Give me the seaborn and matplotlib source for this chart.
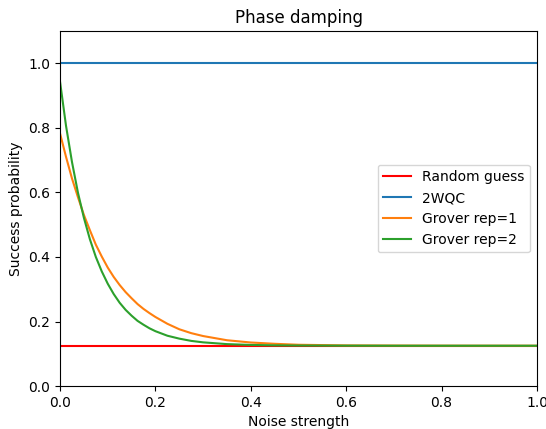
import numpy as np
import pandas as pd
import seaborn as sns
import matplotlib
matplotlib.use("Agg")
import matplotlib.pyplot as plt

# Noise strength grid for the Grover curves (denser near 0 where they fall fast)
noise = [0.0, 0.0125, 0.025, 0.0375, 0.05, 0.0625, 0.075, 0.0875, 0.1, 0.1125,
         0.125, 0.1375, 0.15, 0.1625, 0.175, 0.1875, 0.2, 0.225, 0.25, 0.275,
         0.3, 0.35, 0.4, 0.45, 0.5, 0.6, 0.7, 0.8, 0.9, 1.0]

grover_rep1 = [0.782, 0.710, 0.643, 0.585, 0.530, 0.483, 0.438, 0.401, 0.367, 0.338,
               0.313, 0.291, 0.272, 0.254, 0.239, 0.226, 0.214, 0.193, 0.176, 0.164,
               0.155, 0.142, 0.135, 0.131, 0.128, 0.126, 0.1255, 0.1252, 0.1251, 0.125]

grover_rep2 = [0.942, 0.806, 0.694, 0.599, 0.521, 0.455, 0.400, 0.355, 0.317, 0.285,
               0.258, 0.236, 0.218, 0.202, 0.190, 0.179, 0.170, 0.156, 0.147, 0.140,
               0.1355, 0.130, 0.1275, 0.1262, 0.1256, 0.1252, 0.125, 0.125, 0.125, 0.125]

# flat reference lines
noise_ends = [0.0, 1.0]
random_guess = [0.125, 0.125]
wqc = [1.0, 1.0]

fig = plt.figure(figsize=(5.46, 4.29), dpi=100)
ax = fig.add_axes([0.110, 0.100, 0.8735, 0.828])

sns.lineplot(x=noise_ends, y=random_guess, color="red", label="Random guess", ax=ax)
sns.lineplot(x=noise_ends, y=wqc, color="tab:blue", label="2WQC", ax=ax)
sns.lineplot(x=noise, y=grover_rep1, color="tab:orange", label="Grover rep=1", ax=ax)
sns.lineplot(x=noise, y=grover_rep2, color="tab:green", label="Grover rep=2", ax=ax)

ax.set_xlim(0, 1)
ax.set_ylim(0, 1.1)
ax.set_xticks([0.0, 0.2, 0.4, 0.6, 0.8, 1.0])
ax.set_yticks([0.0, 0.2, 0.4, 0.6, 0.8, 1.0])
ax.set_xlabel("Noise strength")
ax.set_ylabel("Success probability")
ax.set_title("Phase damping")
ax.legend(loc="center right")

fig.savefig("out.png", dpi=100)
